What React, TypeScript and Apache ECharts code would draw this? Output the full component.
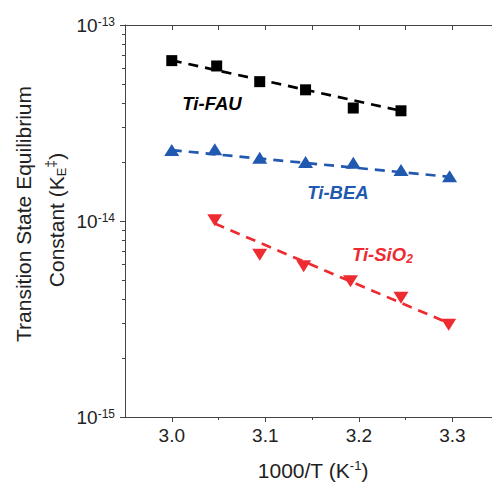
import React, { useEffect, useRef } from "react";
import * as echarts from "echarts";

// ---- data ----
const fauX = [3.0, 3.048, 3.094, 3.143, 3.194, 3.245];
const fauK = [6.58e-14, 6.18e-14, 5.14e-14, 4.67e-14, 3.77e-14, 3.65e-14];
const fauFitX = [3.0, 3.245];
const fauFitK = [6.6e-14, 3.65e-14];

const beaX = [3.0, 3.046, 3.094, 3.143, 3.194, 3.245, 3.297];
const beaK = [2.3e-14, 2.32e-14, 2.1e-14, 2.0e-14, 1.98e-14, 1.82e-14, 1.69e-14];
const beaFitX = [3.0, 3.297];
const beaFitK = [2.3e-14, 1.68e-14];

const sioX = [3.046, 3.094, 3.141, 3.191, 3.245, 3.296];
const sioK = [1.01e-14, 6.73e-15, 5.87e-15, 4.92e-15, 4.06e-15, 2.96e-15];
const sioFitX = [3.046, 3.296];
const sioFitK = [9.7e-15, 3.01e-15];

const xMajorTicks = [3.0, 3.1, 3.2, 3.3];
const xMinorTicks = [3.05, 3.15, 3.25];
const xTopTicks = [3.0, 3.05, 3.1, 3.15, 3.2, 3.25, 3.3];
const yDecades = [-15, -14];
const yMinorMultipliers = [2, 3, 4, 5, 6, 7, 8, 9];

const FONT = "'Liberation Sans', Arial, Helvetica, sans-serif";
const BLACK = "#000000";
const BLUE = "#2158b0";
const RED = "#ee2b30";
const AXIS = "#444444";

const zip = (xs: number[], ys: number[]) => xs.map((x, i) => [x, ys[i]]);

export default function App() {
  const ref = useRef<HTMLDivElement>(null);
  useEffect(() => {
    if (!ref.current) return;
    const chart = echarts.init(ref.current, undefined, { renderer: "svg" });
    const xMin = 2.95;
    const xMax = 3.3423;
    const yMinorLog: number[] = [];
    yDecades.forEach((d) =>
      yMinorMultipliers.forEach((m) => yMinorLog.push(d + Math.log10(m)))
    );

    const fitLine = (xs: number[], ys: number[], color: string) => ({
      type: "line",
      xAxisIndex: 0,
      yAxisIndex: 0,
      data: zip(xs, ys),
      symbol: "none",
      lineStyle: { color, width: 2.7, type: [10, 7] },
      silent: true,
      z: 2,
    });

    chart.setOption({
      animation: false,
      backgroundColor: "#ffffff",
      grid: { left: 125, right: 0, top: 25, bottom: 66, containLabel: false },
      xAxis: [
        {
          type: "value",
          position: "bottom",
          min: xMin,
          max: xMax,
          axisLine: { show: true, onZero: false, lineStyle: { color: AXIS, width: 1 } },
          axisTick: { show: true, inside: false, length: 5, customValues: xMajorTicks, lineStyle: { color: AXIS } },
          axisLabel: {
            customValues: xMajorTicks,
            formatter: (v: number) => v.toFixed(1),
            fontSize: 19,
            fontFamily: FONT,
            color: "#222",
            margin: 9,
          },
          splitLine: { show: false },
        },
        {
          type: "value",
          position: "bottom",
          min: xMin,
          max: xMax,
          axisLine: { show: false },
          axisTick: { show: true, inside: false, length: 3, customValues: xMinorTicks, lineStyle: { color: AXIS } },
          axisLabel: { show: false },
          splitLine: { show: false },
        },
        {
          type: "value",
          position: "top",
          min: xMin,
          max: xMax,
          axisLine: { show: true, onZero: false, lineStyle: { color: AXIS, width: 1 } },
          axisTick: { show: true, inside: true, length: 5, customValues: xTopTicks, lineStyle: { color: AXIS } },
          axisLabel: { show: false },
          splitLine: { show: false },
        },
      ],
      yAxis: [
        {
          type: "log",
          logBase: 10,
          min: 1e-15,
          max: 1e-13,
          position: "left",
          axisLine: { show: true, onZero: false, lineStyle: { color: AXIS, width: 1 } },
          axisTick: { show: true, inside: false, length: 5, lineStyle: { color: AXIS } },
          axisLabel: {
            margin: 10,
            formatter: (v: number) => `{b|10}{s|${Math.round(Math.log10(v))}}`,
            rich: {
              b: { fontSize: 19, fontFamily: FONT, color: "#222", lineHeight: 19 },
              s: { fontSize: 12, fontFamily: FONT, color: "#222", lineHeight: 11, verticalAlign: "top" },
            },
          },
          splitLine: { show: false },
          minorTick: { show: false },
        },
        {
          type: "value",
          min: -15,
          max: -13,
          position: "left",
          axisLine: { show: false },
          axisTick: { show: true, inside: false, length: 3, customValues: yMinorLog, lineStyle: { color: AXIS } },
          axisLabel: { show: false },
          splitLine: { show: false },
        },
      ],
      series: [
        fitLine(fauFitX, fauFitK, BLACK),
        fitLine(beaFitX, beaFitK, BLUE),
        fitLine(sioFitX, sioFitK, RED),
        {
          type: "scatter",
          name: "Ti-FAU",
          data: zip(fauX, fauK),
          symbol: "rect",
          symbolSize: 11,
          itemStyle: { color: BLACK, opacity: 1 },
          z: 3,
        },
        {
          type: "scatter",
          name: "Ti-BEA",
          data: zip(beaX, beaK),
          symbol: "triangle",
          symbolSize: [15, 12],
          itemStyle: { color: BLUE, opacity: 1 },
          z: 3,
        },
        {
          type: "scatter",
          name: "Ti-SiO2",
          data: zip(sioX, sioK),
          symbol: "triangle",
          symbolRotate: 180,
          symbolSize: [15, 12],
          itemStyle: { color: RED, opacity: 1 },
          z: 3,
        },
      ],
      graphic: [
        {
          type: "text",
          x: 23,
          y: 214,
          rotation: Math.PI / 2,
          style: {
            text: "Transition State Equilibrium",
            fontSize: 21,
            fontFamily: FONT,
            fill: "#222",
            align: "center",
            verticalAlign: "middle",
          },
        },
        {
          type: "text",
          x: 56,
          y: 220,
          rotation: Math.PI / 2,
          style: {
            text: "{a|Constant (K}{sub|E}{sup|‡}{a|)}",
            align: "center",
            verticalAlign: "middle",
            rich: {
              a: { fontSize: 21, fontFamily: FONT, fill: "#222", lineHeight: 24 },
              sub: { fontSize: 13, fontFamily: FONT, fill: "#222", lineHeight: 12, verticalAlign: "bottom" },
              sup: { fontSize: 14, fontFamily: FONT, fill: "#222", lineHeight: 14, verticalAlign: "top" },
            },
          },
        },
        {
          type: "text",
          x: 313,
          y: 470,
          style: {
            text: "{a|1000/T (K}{sup|-1}{a|)}",
            align: "center",
            verticalAlign: "middle",
            rich: {
              a: { fontSize: 21, fontFamily: FONT, fill: "#222", lineHeight: 22 },
              sup: { fontSize: 13, fontFamily: FONT, fill: "#222", lineHeight: 12, verticalAlign: "top" },
            },
          },
        },
        {
          type: "text",
          x: 212,
          y: 103,
          style: {
            text: "Ti-FAU",
            fontSize: 18.5,
            fontWeight: "bold",
            fontStyle: "italic",
            fontFamily: FONT,
            fill: BLACK,
            align: "center",
            verticalAlign: "middle",
          },
        },
        {
          type: "text",
          x: 338,
          y: 192,
          style: {
            text: "Ti-BEA",
            fontSize: 18.5,
            fontWeight: "bold",
            fontStyle: "italic",
            fontFamily: FONT,
            fill: BLUE,
            align: "center",
            verticalAlign: "middle",
          },
        },
        {
          type: "text",
          x: 352,
          y: 254,
          style: {
            text: "{a|Ti-SiO}{b|2}",
            align: "left",
            verticalAlign: "middle",
            rich: {
              a: { fontSize: 18.5, fontWeight: "bold", fontStyle: "italic", fontFamily: FONT, fill: RED, lineHeight: 22 },
              b: { fontSize: 12, fontWeight: "bold", fontStyle: "italic", fontFamily: FONT, fill: RED, lineHeight: 12, verticalAlign: "bottom" },
            },
          },
        },
      ],
    });
    return () => chart.dispose();
  }, []);
  return (
    <div
      ref={ref}
      style={{ position: "absolute", left: 0, top: 0, width: 492, height: 483, background: "#fff" }}
    />
  );
}
